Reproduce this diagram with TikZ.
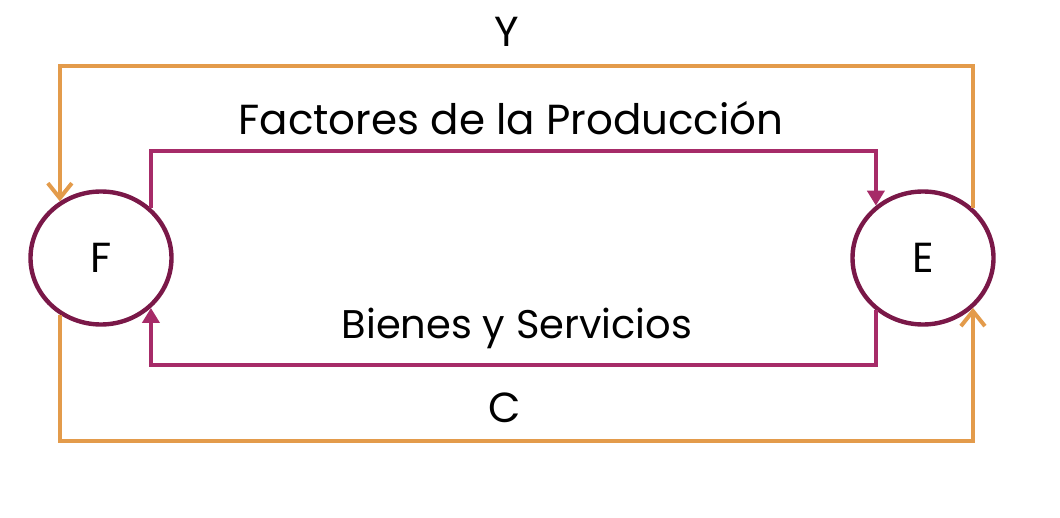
\documentclass[tikz,border=0pt]{standalone}
\usepackage{fontspec}
\setmainfont{Poppins}
\usetikzlibrary{shapes.geometric,arrows.meta,calc}
\definecolor{ring}{HTML}{7A1848}
\definecolor{magline}{HTML}{A62B68}
\definecolor{orline}{HTML}{E39B4B}
\tikzset{
  agent/.style={ellipse,draw=ring,line width=4.4pt,minimum width=141pt,minimum height=133pt,inner sep=0pt,font=\fontsize{42}{42}\selectfont},
  flowm/.style={draw=magline,line width=4pt,-{Triangle[width=17pt,length=15pt]}},
  flowo/.style={draw=orline,line width=4pt,-{Straight Barb[width=24pt,length=15pt,line width=4pt]}},
  lbl/.style={font=\fontsize{42}{42}\selectfont,inner sep=0pt}
}
\begin{document}
\begin{tikzpicture}[x=1pt,y=-1pt]
\useasboundingbox (0,0) rectangle (1060,518);
\node[agent] (F) at (101,258) {F};
\node[agent] (E) at (923,258) {E};
\coordinate (ytop) at (0,66);
\coordinate (mtop) at (0,151);
\coordinate (mbot) at (0,365);
\coordinate (obot) at (0,441);
\draw[flowo] (E.45) |- (ytop -| F.126) -- (F.126);
\draw[flowm] (F.45) |- (mtop -| E.132) -- (E.132);
\draw[flowm] (E.228) |- (mbot -| F.315) -- (F.315);
\draw[flowo] (F.234) |- (obot -| E.315) -- (E.315);
\node[lbl] (ly) at (507,32) {Y};
\node[lbl] (lf) at (511,118) {Factores de la Producción};
\node[lbl,font=\fontsize{40}{40}\selectfont] (lb) at (517,328) {Bienes y Servicios};
\node[lbl] (lc) at (505,408) {C};
\end{tikzpicture}
\end{document}
